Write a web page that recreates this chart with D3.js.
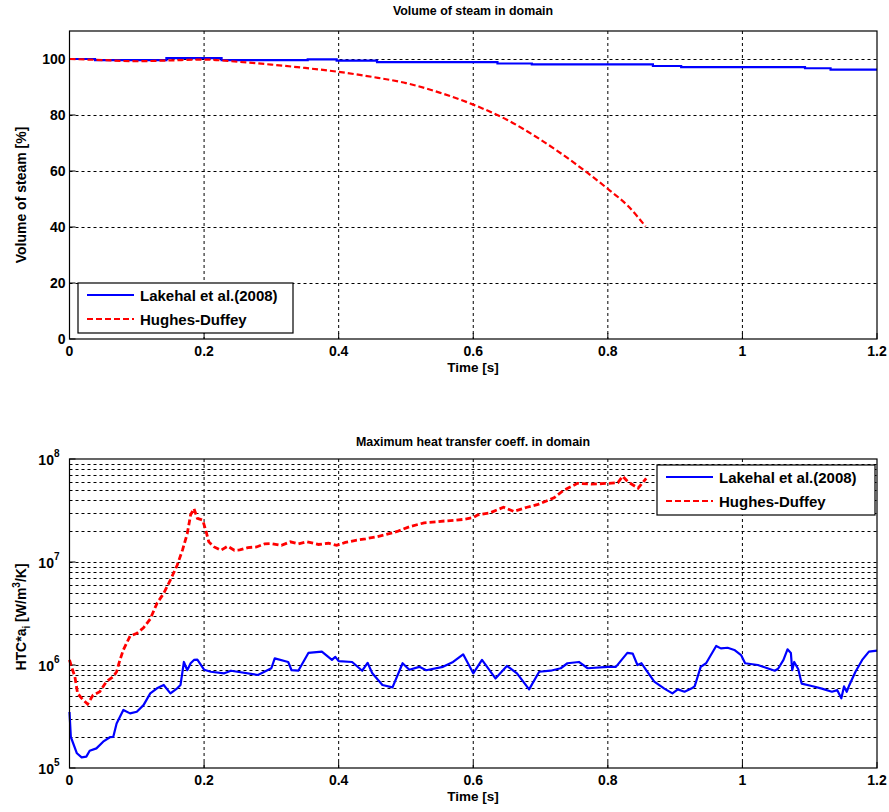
<!DOCTYPE html>
<html>
<head>
<meta charset="utf-8">
<script src="https://cdn.jsdelivr.net/npm/d3@7"></script>
<style>
  body { margin: 0; background: #fff; }
  text { font-family: "Liberation Sans", Arial, sans-serif; font-weight: bold; fill: #000; }
</style>
</head>
<body>
<div id="chart"></div>
<script>
// x axis ticks (shared)
const timeTicks = [0, 0.2, 0.4, 0.6, 0.8, 1, 1.2];
const steamTicks = [0, 20, 40, 60, 80, 100];
const htcDecades = [1e5, 1e6, 1e7, 1e8];

// Volume of steam [%] - Lakehal (step values)
const steamLakehal = [
  [0, 100], [0.038, 99.6], [0.144, 100.3], [0.226, 99.6], [0.354, 99.9],
  [0.397, 99.4], [0.457, 98.9], [0.636, 98.4], [0.687, 98.1], [0.867, 97.5],
  [0.909, 97.1], [1.093, 96.7], [1.131, 96.2], [1.2, 96.2]
];
// Volume of steam [%] - Hughes-Duffey
const steamHughes = [
  [0, 100], [0.04, 99.7], [0.1, 99.2], [0.15, 99.5], [0.2, 99.8], [0.25, 99.0],
  [0.3, 98.0], [0.35, 96.8], [0.4, 95.4], [0.45, 93.6], [0.5, 91.4], [0.55, 88.0],
  [0.6, 83.7], [0.65, 78.3], [0.7, 71.2], [0.75, 62.9], [0.8, 53.6], [0.83, 47.5], [0.856, 40.2]
];

// Maximum HTC*a_i - Lakehal
const htcLakehal = [
  [0, 3.5e5], [0.002, 2.0e5], [0.011, 1.39e5], [0.018, 1.27e5], [0.025, 1.29e5],
  [0.03, 1.47e5], [0.04, 1.55e5], [0.05, 1.8e5], [0.06, 1.99e5], [0.065, 2.0e5],
  [0.07, 2.71e5], [0.08, 3.66e5], [0.09, 3.39e5], [0.1, 3.52e5], [0.11, 4.08e5],
  [0.12, 5.3e5], [0.13, 5.94e5], [0.14, 6.4e5], [0.15, 5.3e5], [0.16, 5.94e5],
  [0.165, 6.4e5], [0.17, 1.07e6], [0.175, 8.9e5], [0.18, 1.04e6], [0.185, 1.12e6],
  [0.19, 1.13e6], [0.2, 9.0e5], [0.21, 8.6e5], [0.23, 8.3e5], [0.24, 8.8e5],
  [0.28, 8.0e5], [0.3, 9.3e5], [0.305, 1.16e6], [0.325, 1.07e6], [0.33, 8.9e5],
  [0.34, 8.8e5], [0.355, 1.31e6], [0.375, 1.35e6], [0.39, 1.12e6], [0.395, 1.2e6],
  [0.4, 1.09e6], [0.42, 1.07e6], [0.435, 8.8e5], [0.443, 1.05e6], [0.45, 8.3e5],
  [0.465, 6.4e5], [0.48, 6.06e5], [0.495, 1.04e6], [0.505, 9.0e5], [0.52, 9.6e5],
  [0.53, 8.9e5], [0.555, 9.6e5], [0.57, 1.07e6], [0.585, 1.27e6], [0.6, 8.3e5],
  [0.613, 1.12e6], [0.633, 7.4e5], [0.65, 9.8e5], [0.665, 8.3e5], [0.683, 5.8e5],
  [0.698, 8.6e5], [0.715, 8.8e5], [0.73, 9.3e5], [0.74, 1.04e6], [0.757, 1.07e6],
  [0.77, 9.3e5], [0.8, 9.6e5], [0.812, 9.6e5], [0.829, 1.31e6], [0.837, 1.29e6],
  [0.844, 1.0e6], [0.85, 1.04e6], [0.856, 9.1e5], [0.869, 6.9e5], [0.884, 5.9e5],
  [0.896, 5.3e5], [0.904, 5.8e5], [0.914, 5.5e5], [0.924, 5.9e5], [0.929, 6.2e5],
  [0.938, 9.6e5], [0.946, 1.04e6], [0.961, 1.53e6], [0.968, 1.45e6], [0.978, 1.47e6],
  [0.988, 1.40e6], [0.998, 1.25e6], [1.004, 1.04e6], [1.023, 1.0e6], [1.048, 8.8e5],
  [1.053, 9.2e5], [1.061, 1.12e6], [1.067, 1.42e6], [1.072, 1.31e6], [1.074, 8.9e5],
  [1.077, 1.07e6], [1.083, 9.1e5], [1.088, 6.6e5], [1.103, 6.25e5], [1.118, 5.9e5],
  [1.133, 5.5e5], [1.141, 5.7e5], [1.147, 4.75e5], [1.151, 6.2e5], [1.155, 5.5e5],
  [1.159, 6.4e5], [1.168, 8.6e5], [1.178, 1.12e6], [1.188, 1.35e6], [1.2, 1.38e6]
];
// Maximum HTC*a_i - Hughes-Duffey
const htcHughes = [
  [0, 1.12e6], [0.003, 9.6e5], [0.008, 7.7e5], [0.012, 5.3e5], [0.02, 4.6e5],
  [0.027, 4.17e5], [0.035, 5.1e5], [0.045, 5.5e5], [0.055, 6.9e5], [0.065, 7.7e5],
  [0.07, 8.6e5], [0.075, 1.12e6], [0.08, 1.4e6], [0.09, 1.91e6], [0.1, 2.03e6],
  [0.11, 2.3e6], [0.12, 2.8e6], [0.13, 3.97e6], [0.14, 4.96e6], [0.15, 6.7e6],
  [0.16, 9.3e6], [0.168, 1.31e7], [0.175, 1.89e7], [0.18, 2.87e7], [0.185, 3.3e7],
  [0.19, 2.65e7], [0.198, 2.55e7], [0.2025, 2.03e7], [0.207, 1.57e7], [0.215, 1.4e7],
  [0.225, 1.3e7], [0.235, 1.42e7], [0.245, 1.3e7], [0.253, 1.31e7], [0.265, 1.38e7],
  [0.278, 1.4e7], [0.29, 1.5e7], [0.3, 1.51e7], [0.315, 1.45e7], [0.328, 1.57e7],
  [0.34, 1.5e7], [0.353, 1.57e7], [0.37, 1.48e7], [0.385, 1.52e7], [0.397, 1.45e7],
  [0.41, 1.55e7], [0.427, 1.63e7], [0.44, 1.68e7], [0.457, 1.76e7], [0.47, 1.85e7],
  [0.487, 1.98e7], [0.505, 2.2e7], [0.527, 2.4e7], [0.545, 2.45e7], [0.557, 2.5e7],
  [0.575, 2.55e7], [0.587, 2.6e7], [0.6, 2.7e7], [0.607, 2.87e7], [0.625, 3.0e7],
  [0.645, 3.4e7], [0.66, 3.1e7], [0.68, 3.4e7], [0.695, 3.6e7], [0.72, 4.2e7],
  [0.735, 5.0e7], [0.755, 5.8e7], [0.775, 5.7e7], [0.8, 5.8e7], [0.815, 5.9e7],
  [0.822, 6.8e7], [0.83, 6.0e7], [0.845, 5.2e7], [0.857, 6.5e7]
];

const seriesNames = ["Lakehal et al.(2008)", "Hughes-Duffey"];
const blue = "#0000ff", red = "#ff0000";

const width = 889, height = 812;
const svg = d3.select("#chart").append("svg")
    .attr("width", width)
    .attr("height", height);

const x = d3.scaleLinear().domain([0, 1.2]).range([69.5, 877]);
const yTop = d3.scaleLinear().domain([0, 110]).range([339, 31]);
const yBot = d3.scaleLog().domain([1e5, 1e8]).range([768, 459]);

function drawFrame(y, top, bottom, hGrid, title, titleY) {
    const g = svg.append("g");
    // grid
    g.selectAll(".vg").data(timeTicks.slice(1, -1)).join("line")
        .attr("x1", d => x(d)).attr("x2", d => x(d))
        .attr("y1", top).attr("y2", bottom)
        .attr("stroke", "#000").attr("stroke-width", 1)
        .attr("stroke-dasharray", "3,3");
    g.selectAll(".hg").data(hGrid).join("line")
        .attr("x1", x(0)).attr("x2", x(1.2))
        .attr("y1", d => Math.round(y(d)) + 0.5).attr("y2", d => Math.round(y(d)) + 0.5)
        .attr("stroke", "#000").attr("stroke-width", 1)
        .attr("stroke-dasharray", "3,3");
    // x ticks
    g.selectAll(".xt").data(timeTicks).join("line")
        .attr("x1", d => x(d)).attr("x2", d => x(d))
        .attr("y1", bottom).attr("y2", bottom - 6)
        .attr("stroke", "#000");
    g.selectAll(".xl").data(timeTicks).join("text")
        .attr("x", d => x(d)).attr("y", bottom + 17)
        .attr("text-anchor", "middle")
        .style("font-size", "14px")
        .text(d => d3.format("")(d));
    g.append("text")
        .attr("x", 473).attr("y", titleY)
        .attr("text-anchor", "middle")
        .style("font-size", "12.4px")
        .text(title);
    g.append("text")
        .attr("x", 473).attr("y", bottom + 33)
        .attr("text-anchor", "middle")
        .style("font-size", "13.5px")
        .text("Time [s]");
    return g;
}

function drawBox(top, bottom) {
    svg.append("rect")
        .attr("x", x(0)).attr("y", top)
        .attr("width", x(1.2) - x(0)).attr("height", bottom - top)
        .attr("fill", "none").attr("stroke", "#000").attr("stroke-width", 1.2);
}

function drawLegend(lx, ly, w, h) {
    const g = svg.append("g").attr("transform", `translate(${lx},${ly})`);
    g.append("rect").attr("width", w).attr("height", h)
        .attr("fill", "#fff").attr("stroke", "#000").attr("stroke-width", 1.2);
    seriesNames.forEach((name, i) => {
        const yy = 12 + i * 24;
        g.append("line")
            .attr("x1", 9).attr("x2", 56).attr("y1", yy).attr("y2", yy)
            .attr("stroke", i === 0 ? blue : red).attr("stroke-width", 2)
            .attr("stroke-dasharray", i === 0 ? null : "6,3");
        g.append("text")
            .attr("x", 62).attr("y", yy + 5.5)
            .style("font-size", "15px")
            .text(name);
    });
}

// ---------- top chart ----------
drawFrame(yTop, 31, 339, [20, 40, 60, 80, 100], "Volume of steam in domain", 15);
const gTop = svg.append("g");
gTop.selectAll(".yt").data(steamTicks).join("line")
    .attr("x1", x(0)).attr("x2", x(0) + 6)
    .attr("y1", d => yTop(d)).attr("y2", d => yTop(d))
    .attr("stroke", "#000");
gTop.selectAll(".yl").data(steamTicks).join("text")
    .attr("x", x(0) - 4).attr("y", d => yTop(d) + 5)
    .attr("text-anchor", "end")
    .style("font-size", "14px")
    .text(d => d);
gTop.append("text")
    .attr("transform", "translate(26,195) rotate(-90)")
    .attr("text-anchor", "middle")
    .style("font-size", "14px")
    .text("Volume of steam [%]");

const lineTop = d3.line().x(d => x(d[0])).y(d => yTop(d[1]));
gTop.append("path").datum(steamLakehal)
    .attr("d", lineTop.curve(d3.curveStepAfter))
    .attr("fill", "none").attr("stroke", blue).attr("stroke-width", 2.2);
gTop.append("path").datum(steamHughes)
    .attr("d", d3.line().x(d => x(d[0])).y(d => yTop(d[1])).curve(d3.curveMonotoneX))
    .attr("fill", "none").attr("stroke", red).attr("stroke-width", 2.2)
    .attr("stroke-dasharray", "6,3");
drawBox(31, 339);
drawLegend(78, 283, 215, 50);

// ---------- bottom chart ----------
const minorGrid = [];
[1e5, 1e6, 1e7].forEach(dec => {
    d3.range(1, 10).forEach(m => { if (m * dec > 1e5) minorGrid.push(m * dec); });
});
drawFrame(yBot, 459, 768, minorGrid, "Maximum heat transfer coeff. in domain", 446);
const gBot = svg.append("g");
gBot.selectAll(".yt").data(htcDecades).join("line")
    .attr("x1", x(0)).attr("x2", x(0) + 6)
    .attr("y1", d => yBot(d)).attr("y2", d => yBot(d))
    .attr("stroke", "#000");
const yl = gBot.selectAll(".yl").data(htcDecades).join("text")
    .attr("x", x(0) - 10).attr("y", d => yBot(d) + 6)
    .attr("text-anchor", "end")
    .style("font-size", "14px");
yl.append("tspan").text("10");
yl.append("tspan").attr("dy", -8).style("font-size", "10px").text(d => Math.round(Math.log10(d)));

const yLab = gBot.append("text")
    .attr("transform", "translate(26,617) rotate(-90)")
    .attr("text-anchor", "middle")
    .style("font-size", "14px");
yLab.append("tspan").text("HTC*a");
yLab.append("tspan").attr("dy", 4).style("font-size", "10px").text("i");
yLab.append("tspan").attr("dy", -4).text(" [W/m");
yLab.append("tspan").attr("dy", -6).style("font-size", "10px").text("3");
yLab.append("tspan").attr("dy", 6).text("/K]");

const lineBot = d3.line().x(d => x(d[0])).y(d => yBot(d[1]));
gBot.append("path").datum(htcLakehal)
    .attr("d", lineBot)
    .attr("fill", "none").attr("stroke", blue).attr("stroke-width", 2.2)
    .attr("stroke-linejoin", "round");
gBot.append("path").datum(htcHughes)
    .attr("d", lineBot)
    .attr("fill", "none").attr("stroke", red).attr("stroke-width", 2.8)
    .attr("stroke-dasharray", "6,3");
drawBox(459, 768);
drawLegend(657, 465, 218, 50);
</script>
</body>
</html>
